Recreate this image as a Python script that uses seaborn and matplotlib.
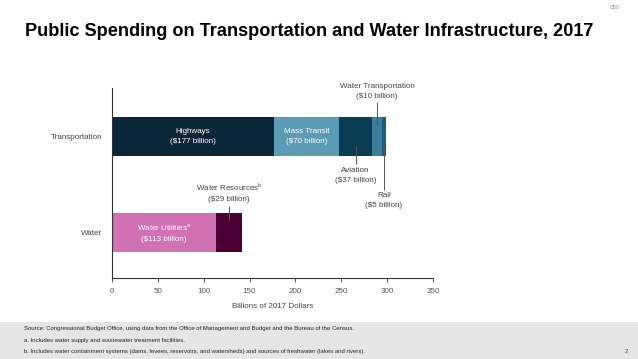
import matplotlib
matplotlib.use("Agg")
import matplotlib.pyplot as plt
import seaborn as sns
import pandas as pd

categories = ["Transportation", "Water"]
segments = ["Highways", "Mass Transit", "Aviation", "Water Transportation", "Rail",
            "Water Utilities", "Water Resources"]
segment_category = ["Transportation"] * 5 + ["Water"] * 2
values = [177, 70, 37, 10, 5, 113, 29]
colors = ["#0b2539", "#5b9bb5", "#0b3c53", "#3d7e9a", "#1f5e7a", "#d071b4", "#4a0035"]
xticks = [0, 50, 100, 150, 200, 250, 300, 350]

sns.set_theme(style="white")
plt.rcParams["font.family"] = ["Liberation Sans", "DejaVu Sans"]

df = pd.DataFrame({"category": segment_category, "segment": segments,
                   "value": values, "color": colors})
df["end"] = df.groupby("category")["value"].cumsum()
df["start"] = df["end"] - df["value"]
df["mid"] = (df["start"] + df["end"]) / 2

fig = plt.figure(figsize=(6.38, 3.59), dpi=100)
ax = fig.add_axes([0.1755, 0.2256, 0.5032, 0.5293])

for _, r in df.sort_values("end", ascending=False).iterrows():
    sns.barplot(x=[r["end"]], y=[r["category"]], order=categories, color=r["color"],
                saturation=1, width=0.4, orient="h", linewidth=0, ax=ax)

ax.set_xlim(0, 350)
ax.set_ylim(1.474, -0.505)
ax.set_xticks(xticks)
ax.set_xticklabels([str(t) for t in xticks], fontsize=5.8, color="#555555")
ax.set_yticks(range(len(categories)))
ax.set_yticklabels(categories, fontsize=5.8, color="#444444")
ax.set_ylabel("")
ax.set_xlabel("Billions of 2017 Dollars", fontsize=5.8, color="#444444", labelpad=6)
for s in ["top", "right"]:
    ax.spines[s].set_visible(False)
for s in ["left", "bottom"]:
    ax.spines[s].set_color("#333333")
    ax.spines[s].set_linewidth(0.8)
ax.tick_params(axis="x", length=3, width=0.6, color="#333333", pad=4, direction="out",
               bottom=True)
ax.tick_params(axis="y", length=0, pad=7)

row = df.set_index("segment")
fs = 5.8
lc = "#555555"
ls = 1.5

def inside(seg, label):
    ax.text(row.loc[seg, "mid"], categories.index(row.loc[seg, "category"]), label,
            ha="center", va="center", color="white", fontsize=fs, linespacing=ls)

inside("Highways", "Highways\n($177 billion)")
inside("Mass Transit", "Mass Transit\n($70 billion)")
inside("Water Utilities", "Water Utilities$^{\\mathregular{a}}$\n($113 billion)")

def leader(seg, y0, y1, ytext, label, va):
    x = row.loc[seg, "mid"]
    ax.plot([x, x], [y0, y1], color=lc, lw=0.7, solid_capstyle="butt")
    ax.text(x, ytext, label, ha="center", va=va, color="#444444", fontsize=fs,
            linespacing=ls)

leader("Water Transportation", -0.36, -0.12, -0.38, "Water Transportation\n($10 billion)", "bottom")
leader("Aviation", 0.1, 0.29, 0.32, "Aviation\n($37 billion)", "top")
leader("Rail", 0.12, 0.56, 0.58, "Rail\n($5 billion)", "top")
leader("Water Resources", 0.72, 0.86, 0.69,
       "Water Resources$^{\\mathregular{b}}$\n($29 billion)", "bottom")

fig.text(0.039, 0.912, "Public Spending on Transportation and Water Infrastructure, 2017",
         fontsize=13.1, fontweight="bold", color="black", va="center", ha="left")
fig.text(0.972, 0.978, "CBO", fontsize=3.5, color="#888888", ha="right", va="center")

fig.patches.append(plt.Rectangle((0, 0), 1, 0.103, transform=fig.transFigure,
                                 facecolor="#e6e6e6", edgecolor="none", zorder=0))
foot = [("Source: Congressional Budget Office, using data from the Office of Management and Budget and the Bureau of the Census.", 0.085),
        ("a. Includes water supply and wastewater treatment facilities.", 0.052),
        ("b. Includes water containment systems (dams, levees, reservoirs, and watersheds) and sources of freshwater (lakes and rivers).", 0.021)]
for t, y in foot:
    fig.text(0.038, y, t, fontsize=4.3, color="#222222", ha="left", va="center")
fig.text(0.985, 0.021, "2", fontsize=4.3, color="#444444", ha="right", va="center")

fig.savefig("out.png", dpi=100, facecolor="white")
